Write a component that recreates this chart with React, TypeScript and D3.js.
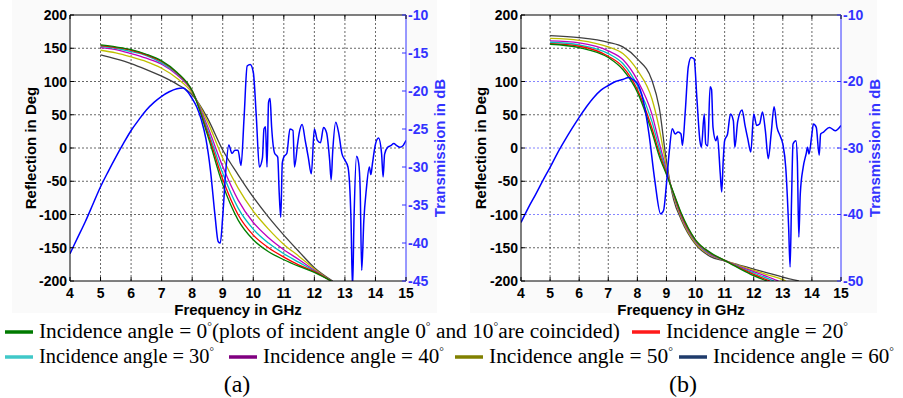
import React from 'react';
import * as d3 from 'd3';

// ---------- data ----------
const freqTicks = [4, 5, 6, 7, 8, 9, 10, 11, 12, 13, 14, 15];
const reflTicks = [200, 150, 100, 50, 0, -50, -100, -150, -200];
const transTicksA = [-10, -15, -20, -25, -30, -35, -40, -45];
const transTicksB = [-10, -20, -30, -40, -50];

const angleLabels = ['0', '20', '30', '40', '50', '60'];
const plotColors = ['#007f00', '#ff0000', '#00bfbf', '#bf00bf', '#bfbf00', '#404040'];
const legendColors = ['#007a00', '#ff1a1a', '#40c8c8', '#800080', '#808000', '#1f3b6b'];

// (a) reflection phase [GHz, deg]
const reflA0 = [[5,155],[5.5,152],[6,148],[6.5,141],[7,131],[7.5,114],[8,86],[8.5,20],[9,-55],[9.5,-108],[10,-138],[10.5,-156],[11,-168],[11.5,-178],[12,-187],[12.55,-200]];
const reflA20 = [[5,154],[5.5,151],[6,147],[6.5,140],[7,130],[7.5,113],[8,86],[8.5,24],[9,-47],[9.5,-100],[10,-131],[10.5,-150],[11,-164],[11.5,-176],[12,-186],[12.55,-200]];
const reflA30 = [[5,153],[5.5,150],[6,145],[6.5,139],[7,128],[7.5,112],[8,86],[8.5,28],[9,-38],[9.5,-90],[10,-122],[10.5,-143],[11,-159],[11.5,-172],[12,-185],[12.55,-200]];
const reflA40 = [[5,151],[5.5,148],[6,142],[6.5,135],[7,126],[7.5,110],[8,85],[8.5,33],[9,-28],[9.5,-78],[10,-112],[10.5,-135],[11,-153],[11.5,-168],[12,-184],[12.55,-200]];
const reflA50 = [[5,147],[5.5,143],[6,137],[6.5,130],[7,120],[7.5,105],[8,83],[8.5,40],[9,-15],[9.5,-60],[10,-95],[10.5,-122],[11,-145],[11.5,-163],[12,-182],[12.55,-200]];
const reflA60 = [[5,140],[5.5,134],[6,127],[6.5,118],[7,108],[7.5,96],[8,80],[8.5,45],[9,-3],[9.5,-40],[10,-74],[10.5,-104],[11,-131],[11.5,-156],[12,-180],[12.6,-200]];

// (b) reflection phase [GHz, deg]
const reflB0 = [[5,156],[6,151],[7,136],[7.5,118],[8,84],[8.5,24],[8.75,-12],[9,-40],[9.25,-68],[9.5,-97],[10,-138],[10.5,-157],[11,-169],[11.5,-181],[12,-192],[12.45,-200]];
const reflB20 = [[5,157],[6,153],[7,138],[7.5,122],[8,88],[8.5,30],[8.75,-7],[9,-38],[9.25,-69],[9.5,-99],[10,-139],[10.5,-158],[11,-169],[11.5,-180],[12,-190],[12.55,-200]];
const reflB30 = [[5,159],[6,155],[7,142],[7.5,127],[8,94],[8.5,40],[8.75,0],[9,-36],[9.25,-70],[9.5,-100],[10,-140],[10.5,-159],[11,-169],[11.5,-179],[12,-188],[12.7,-200]];
const reflB40 = [[5,161],[6,158],[7,146],[7.5,133],[8,102],[8.5,51],[8.75,8],[9,-33],[9.25,-71],[9.5,-102],[10,-141],[10.5,-160],[11,-169],[11.5,-178],[12,-186],[12.5,-194],[12.85,-200]];
const reflB50 = [[5,165],[6,162],[7,152],[7.5,142],[8,117],[8.5,74],[8.75,30],[9,-28],[9.25,-73],[9.5,-104],[10,-143],[10.5,-161],[11,-169],[11.5,-177],[12,-184],[12.5,-191],[13,-198],[13.1,-200]];
const reflB60 = [[5,169],[6,166],[7,159],[7.5,152],[8,134],[8.5,102],[8.75,61],[9,-20],[9.25,-78],[9.5,-107],[10,-145],[10.5,-163],[11,-170],[11.5,-176],[12,-182],[12.5,-188],[13,-194],[13.55,-200]];

// transmission [GHz, dB]
const transA = [[4,-41.4],[4.25,-39.3],[4.5,-37.2],[4.75,-34.9],[5,-32.6],[5.25,-30.6],[5.5,-28.7],[5.75,-26.9],[6,-25.2],[6.25,-23.8],[6.5,-22.5],[6.75,-21.5],[7,-20.7],[7.25,-20.1],[7.5,-19.7],[7.7,-19.6],[7.85,-20.1],[8,-21],[8.15,-22.1],[8.3,-23.8],[8.45,-26.3],[8.6,-30.5],[8.75,-36.5],[8.85,-39.8],[8.92,-40],[9,-36.5],[9.1,-30.5],[9.2,-27.1],[9.3,-28.2],[9.4,-27.8],[9.5,-27.8],[9.6,-29.8],[9.7,-23.4],[9.8,-16.7],[9.9,-16.5],[10,-17.5],[10.1,-23.4],[10.2,-30],[10.3,-28.8],[10.35,-25],[10.4,-24.7],[10.45,-30],[10.5,-21.5],[10.55,-21],[10.6,-24.7],[10.7,-28.2],[10.8,-28.7],[10.85,-33.5],[10.9,-36.6],[10.95,-29.5],[11,-28.7],[11.1,-28.2],[11.2,-25],[11.3,-25.2],[11.35,-30],[11.45,-27],[11.5,-25.6],[11.6,-24.4],[11.7,-26.5],[11.8,-28.7],[11.9,-30.9],[12,-25],[12.1,-26.5],[12.2,-26.8],[12.3,-24.8],[12.4,-25.5],[12.5,-29.1],[12.55,-31.7],[12.6,-28],[12.7,-24.1],[12.8,-25.6],[12.9,-28.2],[13,-29.1],[13.1,-30],[13.2,-37],[13.25,-46],[13.3,-36.5],[13.38,-28.6],[13.45,-29.5],[13.5,-33],[13.55,-43.6],[13.62,-37],[13.7,-33],[13.8,-30],[13.85,-31],[13.9,-29.6],[14,-27],[14.1,-26.2],[14.2,-28.2],[14.25,-31.3],[14.3,-28.3],[14.4,-27.4],[14.5,-27.2],[14.6,-26.9],[14.7,-27.2],[14.8,-27.4],[14.9,-27.2],[15,-26.5]];
const transB = [[4,-41.2],[4.25,-39],[4.5,-37],[4.75,-34.9],[5,-32.9],[5.25,-30.8],[5.5,-28.9],[5.75,-27.1],[6,-25.4],[6.25,-23.8],[6.5,-22.4],[6.75,-21.3],[7,-20.6],[7.25,-20],[7.5,-19.7],[7.7,-19.4],[7.85,-19.7],[8,-20.3],[8.2,-22.8],[8.4,-27.9],[8.6,-34.9],[8.8,-39.9],[8.9,-39.4],[9,-35.4],[9.1,-30.4],[9.2,-27.1],[9.3,-27.9],[9.4,-27.6],[9.5,-27.9],[9.55,-29.6],[9.65,-24.3],[9.75,-17.8],[9.85,-16.4],[9.95,-16.6],[10.05,-22.8],[10.15,-28.9],[10.2,-29.9],[10.3,-24.9],[10.35,-29.4],[10.42,-29.7],[10.5,-20.8],[10.55,-21.2],[10.6,-26.9],[10.7,-28.9],[10.75,-28.2],[10.85,-33.9],[10.9,-36.6],[10.95,-32],[11,-28.9],[11.1,-27.9],[11.2,-24.9],[11.3,-25.9],[11.35,-29.9],[11.45,-26],[11.6,-24.3],[11.7,-26.6],[11.8,-28.7],[11.9,-30.6],[12,-24.9],[12.1,-26.6],[12.2,-26.4],[12.3,-24.6],[12.4,-27.4],[12.5,-31.6],[12.6,-27.8],[12.7,-23.8],[12.8,-26.9],[12.9,-28.1],[13,-29.4],[13.1,-32.9],[13.2,-41.9],[13.25,-47.9],[13.3,-37.9],[13.35,-29.4],[13.45,-28.9],[13.5,-32],[13.55,-43.4],[13.6,-36.9],[13.7,-32.9],[13.8,-30.9],[13.85,-29.9],[13.9,-30.9],[14,-27.9],[14.05,-26.4],[14.15,-26.9],[14.25,-31.1],[14.3,-27.9],[14.4,-27.6],[14.6,-26.9],[14.8,-27.4],[15,-26.6]];

const reflA = [reflA0, reflA20, reflA30, reflA40, reflA50, reflA60];
const reflB = [reflB0, reflB20, reflB30, reflB40, reflB50, reflB60];

// ---------- layout ----------
const SANS = "'Liberation Sans', Arial, sans-serif";
const SERIF = "'Liberation Serif', 'Times New Roman', Times, serif";
const BLUE = '#0000ff';
const AXBLUE = '#3333ff';

const panels = [
  { key: 'a', left: 70, right: 406, top: 15, bottom: 281, rDomain: [-45, -10], rTicks: transTicksA, refl: reflA, trans: transA, blueGrid: false, reflTitleX: 36, transTitleX: 445, bg: [12, 437] },
  { key: 'b', left: 521, right: 841, top: 15, bottom: 281, rDomain: [-50, -10], rTicks: transTicksB, refl: reflB, trans: transB, blueGrid: true, reflTitleX: 486, transTitleX: 880, bg: [470, 877] },
];

function Panel({ p }: { p: any }) {
  const xs = d3.scaleLinear().domain([4, 15]).range([p.left, p.right]);
  const ys = d3.scaleLinear().domain([-200, 200]).range([p.bottom, p.top]);
  const yr = d3.scaleLinear().domain(p.rDomain).range([p.bottom, p.top]);
  const line = d3.line<number[]>().x(d => xs(d[0])).y(d => ys(d[1])).curve(d3.curveMonotoneX);
  const tline = d3.line<number[]>().x(d => xs(d[0])).y(d => yr(d[1])).curve(d3.curveMonotoneX);
  const clipId = 'clip-' + p.key;
  const blueRows = p.blueGrid ? p.rTicks.map((t: number) => yr(t)) : [];
  const cx = (p.left + p.right) / 2;
  const cy = (p.top + p.bottom) / 2;
  const order = [5, 4, 3, 2, 1, 0];
  return (
    <g>
      <rect x={p.bg[0]} y={0} width={p.bg[1] - p.bg[0]} height={313} fill="#fafafa" />
      <rect x={p.left} y={p.top} width={p.right - p.left} height={p.bottom - p.top} fill="#fff" />
      <defs>
        <clipPath id={clipId}>
          <rect x={p.left} y={p.top} width={p.right - p.left} height={p.bottom - p.top} />
        </clipPath>
      </defs>
      {freqTicks.slice(1, -1).map(t => (
        <line key={'gx' + t} x1={xs(t)} x2={xs(t)} y1={p.top} y2={p.bottom} stroke="#000" strokeWidth={0.8} strokeDasharray="2,2" opacity={0.75} />
      ))}
      {reflTicks.slice(1, -1).map(t => {
        const y = ys(t);
        const isBlue = blueRows.some((b: number) => Math.abs(b - y) < 1);
        return <line key={'gy' + t} x1={p.left} x2={p.right} y1={y} y2={y} stroke={isBlue ? AXBLUE : '#000'} strokeWidth={0.8} strokeDasharray="2,2" opacity={0.75} />;
      })}
      <g clipPath={`url(#${clipId})`}>
        {order.map(i => (
          <path key={'r' + i} d={line(p.refl[i]) || ''} fill="none" stroke={plotColors[i]} strokeWidth={1.3} />
        ))}
        <path d={tline(p.trans) || ''} fill="none" stroke={BLUE} strokeWidth={1.5} />
      </g>
      <line x1={p.left} x2={p.right} y1={p.top} y2={p.top} stroke="#000" strokeWidth={1} />
      <line x1={p.left} x2={p.right} y1={p.bottom} y2={p.bottom} stroke="#000" strokeWidth={1} />
      <line x1={p.left} x2={p.left} y1={p.top} y2={p.bottom} stroke="#000" strokeWidth={1} />
      <line x1={p.right} x2={p.right} y1={p.top} y2={p.bottom} stroke={AXBLUE} strokeWidth={1} />
      {freqTicks.map(t => (
        <g key={'tx' + t}>
          <line x1={xs(t)} x2={xs(t)} y1={p.bottom} y2={p.bottom - 4} stroke="#000" />
          <line x1={xs(t)} x2={xs(t)} y1={p.top} y2={p.top + 4} stroke="#000" />
          <text x={xs(t)} y={298} textAnchor="middle" fontFamily={SANS} fontWeight="bold" fontSize={14} fill="#000">{t}</text>
        </g>
      ))}
      {reflTicks.map(t => (
        <g key={'ty' + t}>
          <line x1={p.left} x2={p.left + 4} y1={ys(t)} y2={ys(t)} stroke="#000" />
          <text x={p.left - 3} y={ys(t) + 5} textAnchor="end" fontFamily={SANS} fontWeight="bold" fontSize={14} fill="#000">{t}</text>
        </g>
      ))}
      {p.rTicks.map((t: number) => (
        <g key={'tr' + t}>
          <line x1={p.right} x2={p.right - 4} y1={yr(t)} y2={yr(t)} stroke={AXBLUE} />
          <text x={p.right + 2} y={yr(t) + 4.5} textAnchor="start" fontFamily={SANS} fontWeight="bold" fontSize={14} fill={AXBLUE}>{t}</text>
        </g>
      ))}
      <text x={cx} y={315} textAnchor="middle" fontFamily={SANS} fontWeight="bold" fontSize={15} fill="#000">Frequency in GHz</text>
      <text transform={`translate(${p.reflTitleX},${cy}) rotate(-90)`} textAnchor="middle" fontFamily={SANS} fontWeight="bold" fontSize={15} fill="#000">Reflection in Deg</text>
      <text transform={`translate(${p.transTitleX},${cy}) rotate(-90)`} textAnchor="middle" fontFamily={SANS} fontWeight="bold" fontSize={15} fill={AXBLUE}>Transmission in dB</text>
    </g>
  );
}

function LegendItem({ x, y, idx, width, extra }: { x: number; y: number; idx: number; width: number; extra?: boolean }) {
  return (
    <g>
      <line x1={x} x2={x + 28} y1={y - 6} y2={y - 6} stroke={legendColors[idx]} strokeWidth={3.5} />
      <text x={x + 34} y={y} fontFamily={SERIF} fontSize={20} fill="#000" textLength={width} lengthAdjust="spacingAndGlyphs">
        {`Incidence angle = ${angleLabels[idx]}`}
        <tspan fontSize={11} dy={-8}>{'\u00b0'}</tspan>
        {extra ? (
          <>
            <tspan dy={8}>{'(plots of incident angle 0'}</tspan>
            <tspan fontSize={11} dy={-8}>{'\u00b0'}</tspan>
            <tspan dy={8}>{' and 10'}</tspan>
            <tspan fontSize={11} dy={-8}>{'\u00b0'}</tspan>
            <tspan dy={8}>{'are coincided)'}</tspan>
          </>
        ) : null}
      </text>
    </g>
  );
}

export default function App() {
  return (
    <svg width={903} height={398} style={{ position: 'absolute', left: 0, top: 0, background: '#fff' }}>
      <rect x={0} y={0} width={903} height={398} fill="#fff" />
      {panels.map(p => <Panel key={p.key} p={p} />)}
      <LegendItem x={5} y={338} idx={0} width={581} extra />
      <LegendItem x={632} y={338} idx={1} width={182} />
      <LegendItem x={5} y={363} idx={2} width={175} />
      <LegendItem x={229} y={363} idx={3} width={181} />
      <LegendItem x={455} y={363} idx={4} width={184} />
      <LegendItem x={679} y={363} idx={5} width={181} />
      <text x={237} y={392} textAnchor="middle" fontFamily={SERIF} fontSize={24} fill="#000">(a)</text>
      <text x={683} y={392} textAnchor="middle" fontFamily={SERIF} fontSize={24} fill="#000">(b)</text>
    </svg>
  );
}
